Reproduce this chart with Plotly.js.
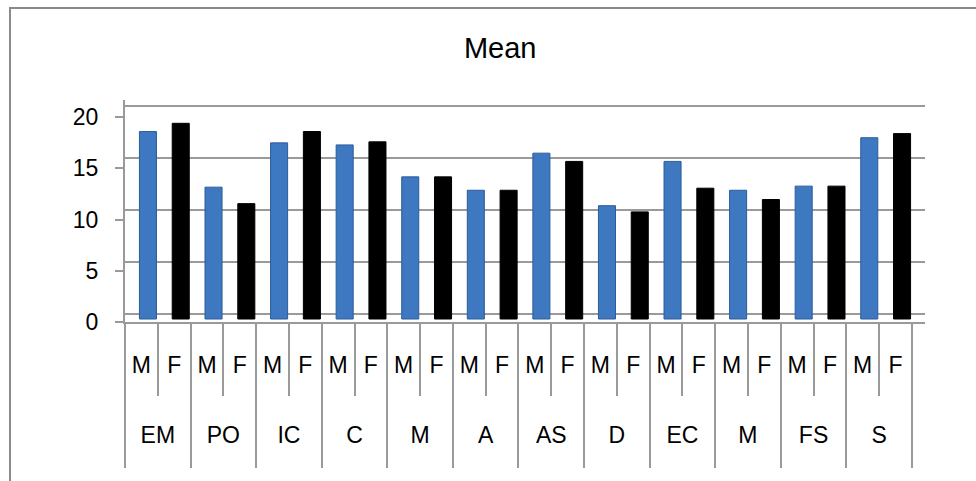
<!DOCTYPE html>
<html>
<head>
<meta charset="utf-8">
<script src="https://cdn.plot.ly/plotly-3.0.1.min.js"></script>
<style>
  html, body { margin: 0; padding: 0; background: #fff; }
  #wrap { position: relative; width: 976px; height: 481px; overflow: hidden; }
  #chart { position: absolute; left: 0; top: 0; width: 976px; height: 481px; }
  #frame { position: absolute; left: 9px; top: 7px; width: 1000px; height: 520px;
           border: 2px solid #8a8a8a; box-sizing: border-box; pointer-events: none; }
</style>
</head>
<body>
<div id="wrap">
  <div id="chart"></div>
  <div id="frame"></div>
</div>
<script>
// ---- data ----
const groups = ['EM', 'PO', 'IC', 'C', 'M', 'A', 'AS', 'D', 'EC', 'M', 'FS', 'S'];
const sexes = ['M', 'F'];
const maleMean   = [18.2, 12.8, 17.1, 16.9, 13.8, 12.5, 16.1, 11.0, 15.3, 12.5, 12.9, 17.6];
const femaleMean = [19.0, 11.2, 18.2, 17.2, 13.8, 12.5, 15.3, 10.4, 12.7, 11.6, 12.9, 18.0];
const yTicks = [0, 5, 10, 15, 20];
const chartTitle = 'Mean';

// ---- build categories ----
const cats = [];
const catText = [];
groups.forEach((g, i) => {
  sexes.forEach(s => { cats.push(i + '-' + s); catText.push(s); });
});
const maleX = groups.map((g, i) => i + '-M');
const femaleX = groups.map((g, i) => i + '-F');
const groupCenters = groups.map((g, i) => i * sexes.length + (sexes.length - 1) / 2);
const groupBounds = groups.map((g, i) => i * sexes.length - 0.5).concat([groups.length * sexes.length - 0.5]);

const FONT = '"Liberation Sans", Arial, Helvetica, sans-serif';
const GRAY = '#9a9a9a';

const xMax = cats.length - 0.5 + 0.4;

const traces = [
  { type: 'bar', x: maleX, y: maleMean, name: 'M', width: 0.52, offset: -0.06,
    marker: { color: '#3d78c0', line: { color: '#2c5d99', width: 1 } },
    xaxis: 'x', yaxis: 'y3', hoverinfo: 'y' },
  { type: 'bar', x: femaleX, y: femaleMean, name: 'F', width: 0.52, offset: -0.06,
    marker: { color: '#000000', line: { color: '#000000', width: 1 } },
    xaxis: 'x', yaxis: 'y3', hoverinfo: 'y' },
  // invisible traces to activate the group-label axis, gridline axis and front value axis
  { type: 'scatter', x: [groupCenters[0]], y: [0], mode: 'markers',
    marker: { opacity: 0 }, xaxis: 'x2', yaxis: 'y2', hoverinfo: 'skip', showlegend: false },
  { type: 'scatter', x: [cats[0]], y: [0], mode: 'markers',
    marker: { opacity: 0 }, xaxis: 'x', yaxis: 'y', hoverinfo: 'skip', showlegend: false }
];

const plotH = 481 - 100 - 159;
const layout = {
  width: 976, height: 481,
  margin: { l: 125, r: 51, t: 100, b: 159, pad: 0 },
  paper_bgcolor: '#ffffff', plot_bgcolor: 'rgba(0,0,0,0)',
  showlegend: false,
  barmode: 'overlay',
  font: { family: FONT, size: 23, color: '#000' },
  title: { text: chartTitle, x: 0.469, xref: 'paper', xanchor: 'center', y: 0.9, yanchor: 'middle',
           font: { family: FONT, size: 29, color: '#000' } },
  xaxis: {
    type: 'category', categoryorder: 'array', categoryarray: cats,
    range: [-0.5, xMax],
    tickmode: 'array', tickvals: cats, ticktext: catText,
    ticks: 'outside', tickson: 'boundaries', ticklen: 72, tickwidth: 2, tickcolor: GRAY,
    showline: true, linecolor: GRAY, linewidth: 2,
    showgrid: false, zeroline: false,
    ticklabelstandoff: 21,
    tickfont: { family: FONT, size: 23, color: '#000' }
  },
  xaxis2: {
    type: 'linear', overlaying: 'x', anchor: 'y', side: 'bottom',
    range: [-0.5, xMax],
    tickmode: 'array', tickvals: groupCenters, ticktext: groups,
    ticks: '', showline: false, showgrid: false, zeroline: false,
    minor: { tickmode: 'array', tickvals: groupBounds, ticks: 'outside', ticklen: 145,
             tickwidth: 2, tickcolor: GRAY, showgrid: false },
    ticklabelstandoff: 97,
    tickfont: { family: FONT, size: 23, color: '#000' }
  },
  yaxis: {
    range: [0, plotH / 10.25],
    tickmode: 'array', tickvals: yTicks, ticktext: yTicks.map(String),
    ticks: 'outside', ticklen: 8, tickwidth: 2, tickcolor: GRAY,
    showline: true, linecolor: GRAY, linewidth: 2,
    showgrid: false, zeroline: false,
    ticklabelstandoff: 12,
    tickfont: { family: FONT, size: 23, color: '#000' }
  },
  yaxis2: {
    overlaying: 'y', anchor: 'x', side: 'left',
    range: [-8 / 10.4, plotH / 10.4 - 8 / 10.4],
    tickmode: 'array', tickvals: yTicks,
    showticklabels: false, ticks: '',
    showgrid: true, gridcolor: GRAY, gridwidth: 2.5,
    zeroline: false, showline: false
  },
  yaxis3: {
    overlaying: 'y', anchor: 'x', side: 'left',
    range: [-3 / 10.3, plotH / 10.3 - 3 / 10.3],
    showticklabels: false, ticks: '', showgrid: false, zeroline: false, showline: false
  }
};

Plotly.newPlot('chart', traces, layout, { staticPlot: true, displayModeBar: false });
</script>
</body>
</html>
